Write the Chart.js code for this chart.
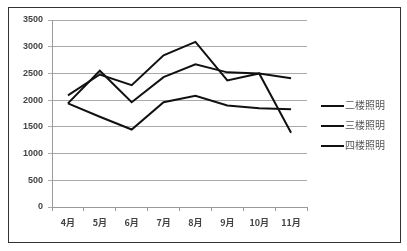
<!DOCTYPE html>
<html>
<head>
<meta charset="utf-8">
<script src="https://cdn.jsdelivr.net/npm/chart.js@4"></script>
<style>
  html, body { margin: 0; padding: 0; background: #fff; }
  #wrap { position: relative; width: 407px; height: 251px; }
  #chart { position: absolute; left: 0; top: 0; }
  #frame { position: absolute; left: 8px; top: 7px; width: 393px; height: 236px;
           box-sizing: border-box; border: 1px solid #333; pointer-events: none; }
  #legend { position: absolute; left: 321px; top: 98px; font: 10px "Noto Sans CJK SC", sans-serif; color: #555; }
  #legend div { height: 20px; line-height: 14px; white-space: nowrap; }
  #legend span { display: inline-block; width: 23px; height: 2px; background: #111; vertical-align: middle; margin-right: 1px; }
</style>
</head>
<body>
<div id="wrap">
  <canvas id="chart" width="407" height="251"></canvas>
  <div id="frame"></div>
  <div id="legend"></div>
</div>
<script>
// 数据
const months = ['4月', '5月', '6月', '7月', '8月', '9月', '10月', '11月'];
const seriesNames = ['二楼照明', '三楼照明', '四楼照明'];
const floor2 = [2090, 2480, 2280, 2840, 3090, 2370, 2500, 1390];
const floor3 = [1940, 2550, 1960, 2430, 2670, 2520, 2500, 2410];
const floor4 = [1940, 1690, 1450, 1960, 2080, 1900, 1850, 1830];
const yTicks = [0, 500, 1000, 1500, 2000, 2500, 3000, 3500];

const seriesData = [floor2, floor3, floor4];

document.addEventListener('DOMContentLoaded', () => {
  const ctx = document.getElementById('chart').getContext('2d');

  new Chart(ctx, {
    type: 'line',
    data: {
      labels: months,
      datasets: seriesData.map((values, i) => ({
        label: seriesNames[i],
        data: values,
        borderColor: '#111',
        borderWidth: 2,
        pointRadius: 0,
        tension: 0,
        fill: false
      }))
    },
    options: {
      responsive: false,
      animation: false,
      layout: { padding: { left: 0, right: 100, top: 20, bottom: 14 } },
      plugins: {
        legend: { display: false },
        tooltip: { enabled: false }
      },
      scales: {
        x: {
          offset: true,
          grid: { offset: true, drawOnChartArea: false, drawTicks: true, tickLength: 4, color: '#999' },
          border: { color: '#999' },
          ticks: { color: '#444', font: { family: '"Noto Sans CJK SC", sans-serif', size: 9, weight: 'bold' }, padding: 6, maxRotation: 0 },
          afterFit: (scale) => { scale.height = 30; }
        },
        y: {
          min: 0,
          max: 3500,
          afterBuildTicks: (scale) => { scale.ticks = yTicks.map(v => ({ value: v })); },
          grid: { color: '#aaa', tickLength: 4 },
          border: { color: '#999' },
          ticks: {
            color: '#444',
            font: { family: '"Liberation Sans", sans-serif', size: 9, weight: 'bold' },
            padding: 5,
            callback: (value) => String(value)
          },
          afterFit: (scale) => { scale.width = 52; }
        }
      }
    }
  });

  // 图例
  const legend = document.getElementById('legend');
  seriesNames.forEach(name => {
    const row = document.createElement('div');
    row.innerHTML = '<span></span>' + name;
    legend.appendChild(row);
  });
});
</script>
</body>
</html>
